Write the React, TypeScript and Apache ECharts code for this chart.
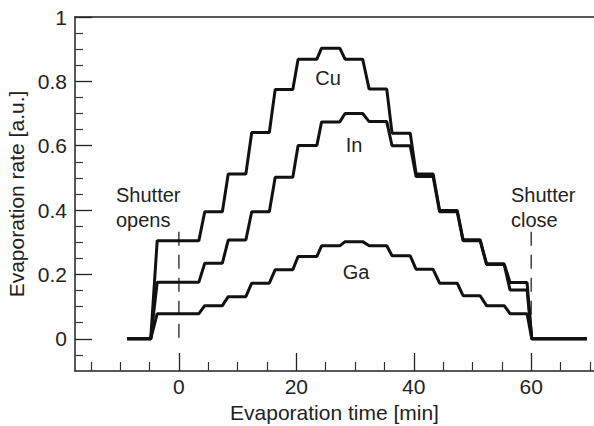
import React, { useEffect, useRef } from "react";
import * as echarts from "echarts";

// Step hold windows (minutes)
const holdStart = [-3.7, 4.4, 8.4, 12.4, 16.4, 20.3, 24.3, 28.3, 32.4, 36.3, 40.4, 44.4, 48.4, 52.4, 56.4];
const holdEnd = [3.4, 7.4, 11.4, 15.4, 19.4, 23.5, 27.4, 31.3, 35.4, 39.4, 43.3, 47.4, 51.3, 55.4, 59.3];
const openStart = -8.8;
const openRise = -4.8;
const closeDrop = 60.1;
const endTime = 69.5;

// Evaporation-rate levels per step
const cuLevels = [0.305, 0.395, 0.512, 0.641, 0.775, 0.869, 0.903, 0.869, 0.776, 0.639, 0.512, 0.399, 0.308, 0.233, 0.175];
const inLevels = [0.176, 0.235, 0.307, 0.395, 0.502, 0.601, 0.674, 0.70, 0.675, 0.60, 0.504, 0.395, 0.305, 0.231, 0.152];
const gaLevels = [0.078, 0.103, 0.131, 0.173, 0.215, 0.256, 0.289, 0.302, 0.289, 0.258, 0.216, 0.173, 0.134, 0.103, 0.078];

// Axis ticks
const xMajor = [0, 20, 40, 60];
const xMinor = [-15, -10, -5, 5, 10, 15, 25, 30, 35, 45, 50, 55, 65, 70];
const yMajor = [0, 0.2, 0.4, 0.6, 0.8, 1];
const yMinor = [-0.05, 0.05, 0.1, 0.15, 0.25, 0.3, 0.35, 0.45, 0.5, 0.55, 0.65, 0.7, 0.75, 0.85, 0.9, 0.95];

// Shutter markers
const shutterOpen = 0;
const shutterClose = 60;
const markerTop = 0.333;

function buildSteps(levels: number[]): number[][] {
  const pts: number[][] = [[openStart, 0], [openRise, 0]];
  levels.forEach((v, i) => {
    pts.push([holdStart[i], v]);
    pts.push([holdEnd[i], v]);
  });
  pts.push([closeDrop, 0]);
  pts.push([endTime, 0]);
  return pts;
}

const FONT = "'Liberation Sans', Arial, Helvetica, sans-serif";
const TXT = "#222";
const FS = 20;
const AFS = 21;

export default function App() {
  const ref = useRef<HTMLDivElement>(null);
  useEffect(() => {
    if (!ref.current) return;
    const chart = echarts.init(ref.current, null, { renderer: "svg" });
    const xMin = -17.7;
    const xMax = 70.7;
    const lineStyle = { color: "#111", width: 3 };
    const dashStyle = { color: "#222", width: 1.3, type: [14, 9] as number[] };
    const option: any = {
      animation: false,
      backgroundColor: "#fff",
      grid: { left: 75, right: 0, top: 17, bottom: 55, containLabel: false, outerBoundsMode: "none" },
      xAxis: [
        {
          type: "value",
          min: xMin,
          max: xMax,
          position: "bottom",
          axisLine: { show: true, onZero: false, lineStyle: { color: "#222", width: 1.5 } },
          axisTick: { show: true, inside: true, length: 18, customValues: xMajor, lineStyle: { color: "#222", width: 1.3 } },
          axisLabel: { show: true, customValues: xMajor, fontSize: AFS, fontFamily: FONT, color: TXT, margin: 5 },
          splitLine: { show: false },
          name: "Evaporation time [min]",
          nameLocation: "middle",
          nameGap: 29,
          nameTextStyle: { fontSize: AFS, fontFamily: FONT, color: TXT },
        },
        {
          type: "value",
          min: xMin,
          max: xMax,
          position: "bottom",
          axisLine: { show: false, onZero: false },
          axisTick: { show: true, inside: true, length: 9, customValues: xMinor, lineStyle: { color: "#333", width: 1.2 } },
          axisLabel: { show: false },
          splitLine: { show: false },
        },
        {
          type: "value",
          min: xMin,
          max: xMax,
          position: "top",
          axisLine: { show: true, onZero: false, lineStyle: { color: "#222", width: 1.5 } },
          axisTick: { show: false },
          axisLabel: { show: false },
          splitLine: { show: false },
        },
      ],
      yAxis: [
        {
          type: "value",
          min: -0.1,
          max: 1,
          position: "left",
          axisLine: { show: true, onZero: false, lineStyle: { color: "#222", width: 1.5 } },
          axisTick: { show: true, inside: true, length: 17, customValues: yMajor, lineStyle: { color: "#222", width: 1.3 } },
          axisLabel: { show: true, customValues: yMajor, fontSize: AFS, fontFamily: FONT, color: TXT, margin: 8 },
          splitLine: { show: false },
          name: "Evaporation rate [a.u.]",
          nameLocation: "middle",
          nameGap: 42,
          nameTextStyle: { fontSize: AFS, fontFamily: FONT, color: TXT },
        },
        {
          type: "value",
          min: -0.1,
          max: 1,
          position: "left",
          axisLine: { show: false, onZero: false },
          axisTick: { show: true, inside: true, length: 8, customValues: yMinor, lineStyle: { color: "#333", width: 1.2 } },
          axisLabel: { show: false },
          splitLine: { show: false },
        },
      ],
      series: [
        {
          name: "Shutter opens",
          type: "line",
          data: [[shutterOpen, markerTop], [shutterOpen, 0]],
          symbol: "none",
          lineStyle: dashStyle,
          z: 1,
        },
        {
          name: "Shutter close",
          type: "line",
          data: [[shutterClose, markerTop], [shutterClose, 0]],
          symbol: "none",
          lineStyle: dashStyle,
          z: 1,
        },
        { name: "Cu", type: "line", data: buildSteps(cuLevels), symbol: "none", lineStyle, z: 3 },
        { name: "In", type: "line", data: buildSteps(inLevels), symbol: "none", lineStyle, z: 3 },
        { name: "Ga", type: "line", data: buildSteps(gaLevels), symbol: "none", lineStyle, z: 3 },
      ],
      graphic: [
        { type: "text", x: 328, y: 78, style: { text: "Cu", fontSize: FS, fontFamily: FONT, fill: TXT, align: "center", verticalAlign: "middle" } },
        { type: "text", x: 354, y: 145, style: { text: "In", fontSize: FS, fontFamily: FONT, fill: TXT, align: "center", verticalAlign: "middle" } },
        { type: "text", x: 356, y: 272, style: { text: "Ga", fontSize: FS, fontFamily: FONT, fill: TXT, align: "center", verticalAlign: "middle" } },
        { type: "text", x: 116, y: 182, style: { text: "Shutter\nopens", fontSize: FS, lineHeight: 25, fontFamily: FONT, fill: TXT, align: "left", verticalAlign: "top" } },
        { type: "text", x: 511, y: 182, style: { text: "Shutter\nclose", fontSize: FS, lineHeight: 25, fontFamily: FONT, fill: TXT, align: "left", verticalAlign: "top" } },
      ],
    };
    chart.setOption(option);
    return () => chart.dispose();
  }, []);
  return <div ref={ref} style={{ position: "fixed", left: 0, top: 0, width: 594, height: 426 }} />;
}
